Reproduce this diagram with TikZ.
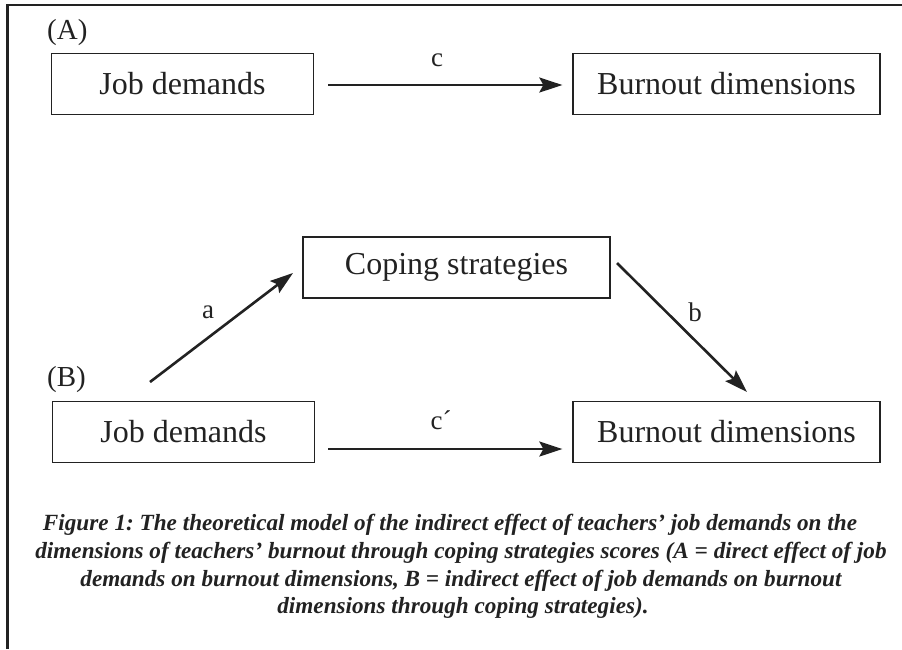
\documentclass[tikz,border=0pt]{standalone}
\usepackage{fontspec}
\setmainfont{Liberation Serif}
\usetikzlibrary{arrows.meta}
\definecolor{ink}{HTML}{222222}
\frenchspacing
\tikzset{
  boxnode/.style={draw=ink, line width=1.3pt, minimum width=262pt, minimum height=61pt, inner sep=0pt, font=\fontsize{32}{36}\selectfont, text=ink},
  widebox/.style={boxnode, minimum width=307pt},
  arr/.style={draw=ink, line width=2.6pt, -{Stealth[length=23pt,width=15pt,inset=4pt]}},
  lbl/.style={font=\fontsize{27}{30}\selectfont, text=ink, inner sep=0pt},
  panel/.style={font=\fontsize{29}{32}\selectfont, text=ink, inner sep=0pt, anchor=west},
  capline/.style={font=\bfseries\itshape\fontsize{23.2}{26}\selectfont, text=ink, inner sep=0pt}
}
\begin{document}
\begin{tikzpicture}[x=1pt,y=-1pt]
\useasboundingbox (0,0) rectangle (902,649);
% frame
\draw[ink, line width=2.2pt] (7.5,649) -- (7.5,5) -- (902,5);
% panel labels
\node[panel] (pA) at (47,33) {(A)};
\node[panel] (pB) at (47,380) {(B)};
% boxes
\node[boxnode] (jobA) at (182.5,84) {Job demands};
\node[widebox] (burnA) at (726.5,84) {Burnout dimensions};
\node[widebox] (cope) at (456.5,267.5) {Coping strategies};
\node[boxnode] (jobB) at (183.5,432) {Job demands};
\node[widebox] (burnB) at (726.5,432) {Burnout dimensions};
% arrows
\draw[arr, shorten <=14pt, shorten >=10pt] ([yshift=-1pt]jobA.east) -- ([yshift=-1pt]burnA.west);
\draw[arr, shorten <=13pt, shorten >=10pt] ([yshift=-17pt]jobB.east) -- ([yshift=-17pt]burnB.west);
\coordinate (a1) at (150,382);
\coordinate (a2) at (293,273);
\coordinate (b1) at (617,263);
\coordinate (b2) at (747,392);
\draw[arr] (a1) -- (a2);
\draw[arr] (b1) -- (b2);
% labels
\node[lbl] (lc) at (437,60) {c};
\node[lbl] (lcp) at (441,420) {c´};
\node[lbl] (la) at (208,312) {a};
\node[lbl] (lb) at (695,312) {b};
% caption
\node[capline] (c1) at (450,525) {Figure 1: The theoretical model of the indirect effect of teachers’ job demands on the};
\node[capline] (c2) at (461,553) {dimensions of teachers’ burnout through coping strategies scores (A = direct effect of job};
\node[capline] (c3) at (461,581) {demands on burnout dimensions, B = indirect effect of job demands on burnout};
\node[capline] (c4) at (463,608) {dimensions through coping strategies).};
\end{tikzpicture}
\end{document}
